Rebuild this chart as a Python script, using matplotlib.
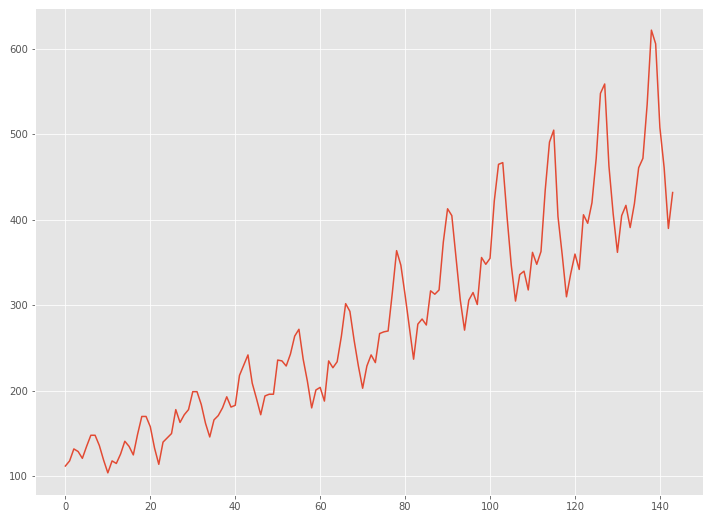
import matplotlib
matplotlib.use("Agg")
import matplotlib.pyplot as plt
import numpy as np

plt.style.use("ggplot")

passengers = [
    112, 118, 132, 129, 121, 135, 148, 148, 136, 119, 104, 118,
    115, 126, 141, 135, 125, 149, 170, 170, 158, 133, 114, 140,
    145, 150, 178, 163, 172, 178, 199, 199, 184, 162, 146, 166,
    171, 180, 193, 181, 183, 218, 230, 242, 209, 191, 172, 194,
    196, 196, 236, 235, 229, 243, 264, 272, 237, 211, 180, 201,
    204, 188, 235, 227, 234, 264, 302, 293, 259, 229, 203, 229,
    242, 233, 267, 269, 270, 315, 364, 347, 312, 274, 237, 278,
    284, 277, 317, 313, 318, 374, 413, 405, 355, 306, 271, 306,
    315, 301, 356, 348, 355, 422, 465, 467, 404, 347, 305, 336,
    340, 318, 362, 348, 363, 435, 491, 505, 404, 359, 310, 337,
    360, 342, 406, 396, 420, 472, 548, 559, 463, 407, 362, 405,
    417, 391, 419, 461, 472, 535, 622, 606, 508, 461, 390, 432,
]
index = list(range(len(passengers)))

fig, ax = plt.subplots(figsize=(710 / 72, 520 / 72), dpi=72)
ax.plot(index, passengers)
fig.subplots_adjust(left=35 / 710, right=703 / 710, bottom=1 - 495 / 520, top=1 - 8 / 520)
fig.savefig("out.png", dpi=72)
